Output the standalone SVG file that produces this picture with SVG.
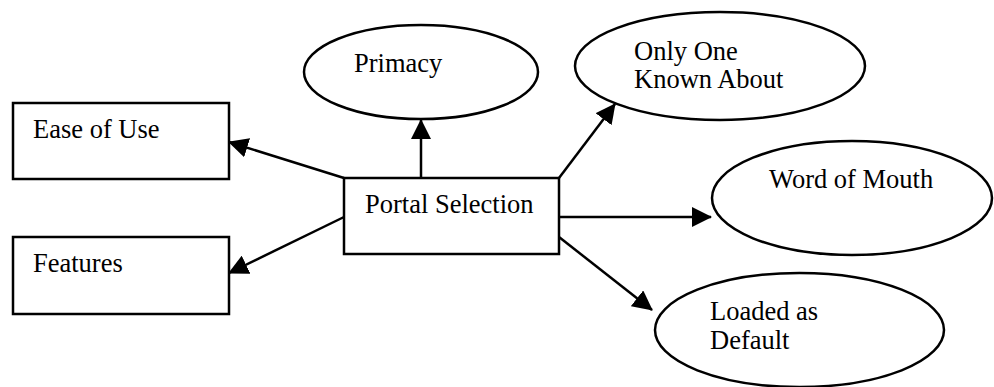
<svg xmlns="http://www.w3.org/2000/svg" width="994" height="387" viewBox="0 0 994 387">
<style>
.shape{fill:#fff;stroke:#000;stroke-width:2.5}
.t{font-family:"Liberation Serif","Times New Roman",serif;font-size:26.5px;fill:#000}
.c{stroke:#000;stroke-width:2.5;fill:none;marker-end:url(#ah)}
</style>
<defs>
<marker id="ah" markerUnits="userSpaceOnUse" markerWidth="20" markerHeight="20" refX="19" refY="10" orient="auto" viewBox="0 0 20 20">
<path d="M0,0 L20,10 L0,20 z" fill="#000"/>
</marker>
</defs>
<g id="connectors">
<line class="c" x1="344" y1="178" x2="229" y2="142"/>
<line class="c" x1="344" y1="217" x2="229" y2="273"/>
<line class="c" x1="421" y1="178" x2="421" y2="120"/>
<line class="c" x1="559" y1="178" x2="615" y2="104"/>
<line class="c" x1="559" y1="217" x2="711" y2="217"/>
<line class="c" x1="559" y1="237" x2="652" y2="310"/>
</g>
<g id="ease">
<rect class="shape" x="13" y="103" width="216" height="76"/>
<text class="t" x="33" y="138">Ease of Use</text>
</g>
<g id="features">
<rect class="shape" x="13" y="237" width="216" height="77"/>
<text class="t" x="33" y="272">Features</text>
</g>
<g id="portal">
<rect class="shape" x="344" y="178" width="215" height="76"/>
<text class="t" x="365" y="213">Portal Selection</text>
</g>
<g id="primacy">
<ellipse class="shape" cx="421" cy="72" rx="117" ry="47"/>
<text class="t" x="354" y="72">Primacy</text>
</g>
<g id="onlyone">
<ellipse class="shape" cx="720" cy="66" rx="145" ry="54"/>
<text class="t" x="634" y="60">Only One</text>
<text class="t" x="634" y="88">Known About</text>
</g>
<g id="word">
<ellipse class="shape" cx="852" cy="198" rx="140" ry="57"/>
<text class="t" x="769" y="188">Word of Mouth</text>
</g>
<g id="loaded">
<ellipse class="shape" cx="799.5" cy="330" rx="144.5" ry="57"/>
<text class="t" x="710" y="320">Loaded as</text>
<text class="t" x="710" y="349">Default</text>
</g>
</svg>
